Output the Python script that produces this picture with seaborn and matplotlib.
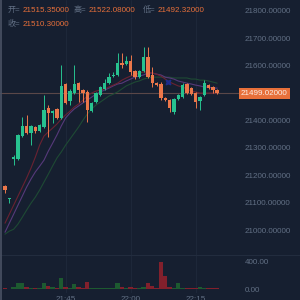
import numpy as np
import pandas as pd
import matplotlib
matplotlib.use('Agg')
import matplotlib.pyplot as plt
import seaborn as sns

# colours
bg = '#161f30'
grid_c = '#1f293b'
txt_c = '#627085'
up_c = '#27c28f'
down_c = '#ec774a'
vol_up = '#1d5a30'
vol_down = '#82202c'

# candles (1 minute, 21:31 .. 22:20)
opens = [21160, 21113, 21259, 21259, 21343, 21380, 21354, 21376, 21361, 21376,
         21445, 21427, 21442, 21409, 21533, 21471, 21500, 21536, 21511, 21504,
         21434, 21467, 21493, 21515, 21536, 21562, 21566, 21610, 21606, 21617,
         21580, 21558, 21580, 21631, 21566, 21536, 21533, 21482, 21474, 21431,
         21478, 21485, 21533, 21518, 21500, 21471, 21493, 21529, 21522, 21510]
closes = [21146, 21117, 21266, 21347, 21380, 21354, 21380, 21361, 21383, 21438,
          21427, 21434, 21409, 21526, 21464, 21507, 21533, 21511, 21500, 21438,
          21464, 21500, 21522, 21536, 21558, 21566, 21610, 21602, 21617, 21577,
          21558, 21580, 21631, 21558, 21536, 21529, 21482, 21474, 21445, 21478,
          21493, 21529, 21500, 21496, 21467, 21485, 21536, 21518, 21511, 21499]
highs = [21164, 21117, 21274, 21350, 21412, 21420, 21383, 21380, 21387, 21493,
         21456, 21438, 21445, 21602, 21536, 21515, 21602, 21540, 21515, 21511,
         21467, 21504, 21526, 21551, 21573, 21577, 21646, 21646, 21635, 21639,
         21584, 21584, 21668, 21668, 21595, 21540, 21540, 21485, 21478, 21482,
         21496, 21536, 21536, 21522, 21504, 21489, 21547, 21533, 21526, 21515]
lows = [21135, 21099, 21237, 21255, 21339, 21350, 21310, 21354, 21358, 21372,
        21339, 21390, 21405, 21405, 21460, 21456, 21496, 21467, 21467, 21394,
        21431, 21464, 21489, 21511, 21533, 21558, 21562, 21591, 21602, 21566,
        21551, 21555, 21577, 21555, 21522, 21526, 21474, 21471, 21431, 21423,
        21474, 21482, 21496, 21493, 21445, 21438, 21489, 21515, 21500, 21496]
volumes = [10, 5, 30, 90, 90, 30, 15, 8, 8, 90,
           45, 35, 10, 160, 30, 12, 75, 30, 10, 100,
           10, 8, 8, 8, 8, 8, 85, 25, 8, 30,
           10, 8, 30, 85, 45, 12, 400, 190, 35, 20,
           85, 8, 8, 8, 8, 30, 10, 8, 8, 8]

# moving averages
ma_red = [21025, 21058, 21091, 21124, 21157, 21190, 21226, 21266, 21310, 21343,
          21358, 21372, 21387, 21405, 21420, 21434, 21449, 21460, 21474, 21489,
          21500, 21507, 21511, 21515, 21522, 21529, 21536, 21547, 21555, 21562,
          21566, 21573, 21577, 21577, 21573, 21569, 21562, 21551, 21540, 21533,
          21526, 21522, 21515, 21507, 21504, 21500, 21500, 21500, 21500, 21500]
ma_purple = [20992, 21025, 21058, 21091, 21124, 21157, 21186, 21212, 21233, 21255,
             21288, 21317, 21347, 21380, 21409, 21427, 21442, 21453, 21464, 21474,
             21485, 21496, 21504, 21511, 21518, 21526, 21533, 21536, 21544, 21551,
             21558, 21562, 21566, 21573, 21573, 21569, 21566, 21558, 21555, 21551,
             21544, 21540, 21536, 21533, 21529, 21526, 21522, 21522, 21518, 21518]
ma_green = [20985, 20996, 21003, 21022, 21047, 21073, 21098, 21120, 21146, 21175,
            21204, 21234, 21263, 21285, 21310, 21332, 21354, 21376, 21401, 21423,
            21442, 21456, 21467, 21478, 21489, 21496, 21504, 21515, 21526, 21533,
            21540, 21544, 21551, 21555, 21558, 21558, 21558, 21558, 21558, 21555,
            21555, 21555, 21555, 21551, 21551, 21547, 21547, 21544, 21540, 21536]

tick_pos = [14, 29, 44]
tick_lab = ['21:45', '22:00', '22:15']
price_ticks = list(range(21000, 21900, 100))
last_price = 21499.02

d = pd.DataFrame({'i': np.arange(len(opens)), 'open': opens, 'close': closes,
                  'high': highs, 'low': lows, 'vol': volumes,
                  'ma1': ma_red, 'ma2': ma_purple, 'ma3': ma_green})
d['up'] = d['close'] >= d['open']

sns.set_style('dark')
plt.rcParams['font.family'] = ['Liberation Sans', 'Noto Sans CJK SC', 'DejaVu Sans']

fig = plt.figure(figsize=(3, 3), dpi=100, facecolor=bg)
ax = fig.add_axes([0, 45/300, 240/300, 255/300], facecolor=bg)
axv = fig.add_axes([0, 7/300, 240/300, 38/300], facecolor=bg, sharex=ax)

# vertical grid only
for a in (ax, axv):
    for t in tick_pos:
        a.axvline(t, color=grid_c, lw=0.6, zorder=0)
    for s in a.spines.values():
        s.set_visible(False)

# moving averages
sns.lineplot(data=d, x='i', y='ma3', color='#1e4a34', lw=0.8, ax=ax)
sns.lineplot(data=d, x='i', y='ma2', color='#56397a', lw=0.8, ax=ax)
sns.lineplot(data=d, x='i', y='ma1', color='#6a2232', lw=0.8, ax=ax)

# current price line
ax.axhline(last_price, color='#5a4748', lw=0.8, zorder=1)

# candles
cols = np.where(d['up'], up_c, down_c)
ax.vlines(d['i'], d['low'], d['high'], colors=cols, lw=0.7, zorder=3)
body = (d['close'] - d['open']).abs().clip(lower=2)
ax.bar(d['i'], body, bottom=d[['open', 'close']].min(axis=1), width=0.78,
       color=cols, edgecolor='none', linewidth=0, zorder=4)

ax.plot([37.6], [21540], marker='X', ms=5, color='#1c2c8c', mec='none', zorder=5)

ax.set_xlim(-1.155, 54.27)
ax.set_ylim(20909, 21839.5)
ax.yaxis.tick_right()
ax.set_yticks(price_ticks)
ax.set_yticklabels(['' if p == 21500 else f'{p:.5f}' for p in price_ticks])
ax.tick_params(axis='y', length=0, pad=3.6, labelsize=5.8, labelcolor=txt_c)
ax.tick_params(axis='x', length=0, labelbottom=False)
ax.set_xlabel('')
ax.set_ylabel('')

# volume
vcols = np.where(d['up'], vol_up, vol_down)
axv.bar(d['i'], d['vol'], width=1.0, color=vcols, edgecolor='none', linewidth=0, zorder=3)
axv.set_ylim(-58, 497)
axv.yaxis.tick_right()
axv.set_yticks([0, 400])
axv.set_yticklabels(['0.00', '400.00'])
axv.set_xticks(tick_pos)
axv.set_xticklabels(tick_lab)
axv.tick_params(axis='y', length=0, pad=3.6, labelsize=5.8, labelcolor=txt_c)
axv.tick_params(axis='x', length=0, pad=2, labelsize=5.8, labelcolor=txt_c)
axv.set_xlabel('')
axv.set_ylabel('')

# separator and left border
fig.add_artist(plt.Line2D([0, 1], [45/300, 45/300], color='#222c3e', lw=0.8))
fig.add_artist(plt.Line2D([0.5/300, 0.5/300], [0, 1], color='#4a5264', lw=1.2))

# current price tag
fig.text(241/300, 1 - 93.5/300, f'{last_price:.5f}', fontsize=5.8, color='#fbeee6',
         va='center', ha='left',
         bbox=dict(boxstyle='square,pad=0.25', fc='#e8703a', ec='none'))

# header
def hdr(x, y, lab, val):
    fig.text(x/300, 1 - y/300, lab, fontsize=5.8, color=txt_c, va='center')
    fig.text((x + 15)/300, 1 - y/300, val, fontsize=5.8, color='#e8703a', va='center')

hdr(8, 10, '开=', '21515.35000')
hdr(74, 10, '高=', '21522.08000')
hdr(143, 10, '低=', '21492.32000')
hdr(8, 24, '收=', '21510.30000')

plt.savefig('out.png', dpi=100, facecolor=bg)
